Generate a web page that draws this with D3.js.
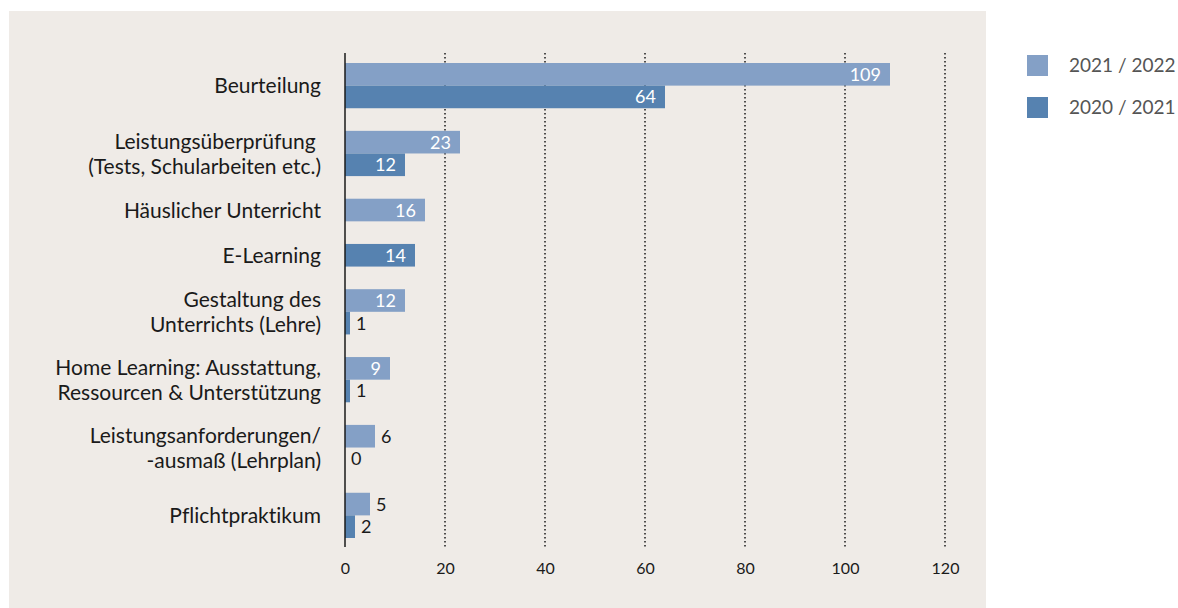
<!DOCTYPE html>
<html>
<head>
<meta charset="utf-8">
<script src="https://cdn.jsdelivr.net/npm/d3@7"></script>
<style>
  html, body { margin: 0; padding: 0; background: #ffffff; }
  svg { display: block; font-family: Lato, "Noto Sans", sans-serif; font-variant-ligatures: none; font-feature-settings: "liga" 0, "dlig" 0; }
</style>
</head>
<body>
<svg id="chart" width="1178" height="608"></svg>
<script>
// Category labels (multi-line labels split into lines)
const categories = [
  ["Beurteilung"],
  ["Leistungsüberprüfung ", "(Tests, Schularbeiten etc.)"],
  ["Häuslicher Unterricht"],
  ["E-Learning"],
  ["Gestaltung des", "Unterrichts (Lehre)"],
  ["Home Learning: Ausstattung,", "Ressourcen & Unterstützung"],
  ["Leistungsanforderungen/", "-ausmaß (Lehrplan)"],
  ["Pflichtpraktikum"]
];
// Series values (null = no bar in that year)
const values2122 = [109, 23, 16, null, 12, 9, 6, 5];
const values2021 = [64, 12, null, 14, 1, 1, 0, 2];
const seriesNames = ["2021 / 2022", "2020 / 2021"];
const tickValues = [0, 20, 40, 60, 80, 100, 120];

const colors = ["#84a0c6", "#5682b0"];
const series = [values2122, values2021];

const svg = d3.select("#chart");

// Panel background
svg.append("rect")
  .attr("x", 9).attr("y", 11)
  .attr("width", 977).attr("height", 597)
  .attr("fill", "#efebe7");

// Build one slot per drawn bar, plus a spacer slot after each category
const slots = [];
const bars = [];
categories.forEach((c, i) => {
  series.forEach((s, k) => {
    if (s[i] !== null) {
      const id = `c${i}s${k}`;
      slots.push(id);
      bars.push({ id, cat: i, series: k, value: s[i] });
    }
  });
  if (i < categories.length - 1) slots.push(`gap${i}`);
});

const x = d3.scaleLinear().domain([0, 120]).range([345, 945]);
const y = d3.scaleBand().domain(slots).range([63, 538]).paddingInner(0);

// Dotted gridlines
svg.append("g")
  .selectAll("line")
  .data(tickValues.filter(d => d > 0))
  .join("line")
  .attr("x1", d => x(d)).attr("x2", d => x(d))
  .attr("y1", 53).attr("y2", 547)
  .attr("stroke", "#1a1a1a")
  .attr("stroke-width", 1.5)
  .attr("stroke-dasharray", "1.5,2.5");

// X axis labels
const xAxis = d3.axisBottom(x).tickValues(tickValues).tickSize(0).tickPadding(0);
const gx = svg.append("g").attr("transform", "translate(0,563)").call(xAxis);
gx.select(".domain").remove();
gx.selectAll("text")
  .attr("font-size", 16)
  .attr("fill", "#1a1a1a")
  .attr("font-family", "Lato, sans-serif");

// Bars
svg.append("g")
  .selectAll("rect")
  .data(bars)
  .join("rect")
  .attr("x", x(0))
  .attr("y", d => y(d.id))
  .attr("width", d => x(d.value) - x(0))
  .attr("height", y.bandwidth())
  .attr("fill", d => colors[d.series]);

// Value labels: inside (white) for long bars, outside (dark) for short ones
svg.append("g")
  .selectAll("text")
  .data(bars)
  .join("text")
  .attr("x", d => d.value >= 9 ? x(d.value) - 9 : x(d.value) + 6)
  .attr("y", d => y(d.id) + y.bandwidth() / 2)
  .attr("dy", "0.36em")
  .attr("text-anchor", d => d.value >= 9 ? "end" : "start")
  .attr("font-size", 18)
  .attr("fill", d => d.value >= 9 ? "#ffffff" : "#1a1a1a")
  .text(d => d.value);

// Vertical axis line
svg.append("line")
  .attr("x1", x(0)).attr("x2", x(0))
  .attr("y1", 53).attr("y2", 547)
  .attr("stroke", "#1a1a1a")
  .attr("stroke-width", 1.5);

// Category labels, centred on their bar group
const lineH = 25;
const catG = svg.append("g");
categories.forEach((lines, i) => {
  const ids = bars.filter(b => b.cat === i).map(b => b.id);
  const top = d3.min(ids, id => y(id));
  const bottom = d3.max(ids, id => y(id) + y.bandwidth());
  const cy = (top + bottom) / 2;
  const t = catG.append("text")
    .attr("x", 321)
    .attr("text-anchor", "end")
    .attr("font-size", 21)
    .attr("fill", "#1a1a1a")
    .style("white-space", "pre");
  lines.forEach((ln, j) => {
    t.append("tspan")
      .attr("x", 321)
      .attr("y", cy + (j - (lines.length - 1) / 2) * lineH)
      .attr("dy", "0.36em")
      .text(ln);
  });
});

// Legend
const lg = svg.append("g");
seriesNames.forEach((name, k) => {
  lg.append("rect")
    .attr("x", 1027).attr("y", 55 + k * 42)
    .attr("width", 21).attr("height", 21)
    .attr("fill", colors[k]);
  lg.append("text")
    .attr("x", 1069).attr("y", 65.5 + k * 42)
    .attr("dy", "0.36em")
    .attr("font-size", 19)
    .attr("fill", "#555555")
    .style("white-space", "pre")
    .text(name);
});
</script>
</body>
</html>
